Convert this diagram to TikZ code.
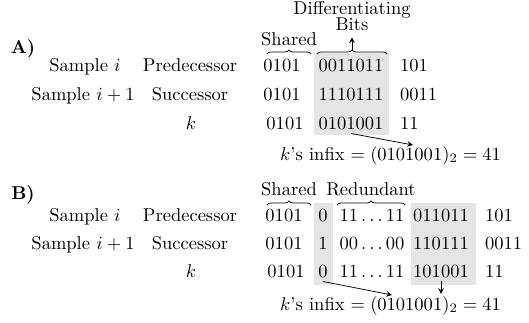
\documentclass[tikz,border=0pt]{standalone}
\usepackage{amsmath,amssymb}
\usepackage{tikz}
\usepackage{xcolor}
\usetikzlibrary{decorations.pathreplacing}

\begin{document}
\begin{tikzpicture}[x=0.54pt,y=-0.54pt,
  lbl/.style={anchor=base,inner sep=1pt},
  bits/.style={anchor=base,inner sep=2pt},
  tailbits/.style={anchor=base west,inner sep=2pt},
  curly/.style={decorate,decoration={brace,amplitude=2.2pt}},
  ptr/.style={->,>=stealth}]
\useasboundingbox (0,0) rectangle (529,322);
\fill[gray!20] (314,53) rectangle (389,135);
\fill[gray!20] (314,203) rectangle (333,285);
\fill[gray!20] (411,203) rectangle (476,285);
\node[lbl,font=\bfseries] (panA) at (23,53) {A)};
\node[lbl] (sampA1) at (85,71) {Sample $i$};
\node[lbl] (roleA1) at (190,71) {Predecessor};
\node[lbl] (sampA2) at (83,100) {Sample $i+1$};
\node[lbl] (roleA2) at (190,100) {Successor};
\node[lbl] (roleA3) at (191,129) {$k$};
\node[lbl] (shA) at (289,45) {Shared};
\node[align=center,inner sep=3.5pt] (diffA) at (352,16) {Differentiating\\[-3.5pt]Bits};
\node[bits] (pA1) at (282,71) {0101};
\node[bits] (dA1) at (351,71) {0011011};
\node[tailbits] (sA1) at (396,71) {101};
\node[bits] (pA2) at (282,100) {0101};
\node[bits] (dA2) at (351,100) {1110111};
\node[tailbits] (sA2) at (396,100) {0011};
\node[bits] (pA3) at (285,129) {0101};
\node[bits] (dA3) at (351,129) {0101001};
\node[tailbits] (sA3) at (396,129) {11};
\node[lbl,anchor=base west] (infA) at (278,160) {$k$'s infix $=(0101001)_2=41$};
\draw[curly] (267,54) -- (311,54);
\draw[curly] (317,54) -- (387,54);
\coordinate (tipA) at (352,50);
\draw[ptr] (tipA) -- (diffA);
\coordinate (endA) at (413,145);
\draw[ptr] (dA3.south) -- (endA);
\node[lbl,font=\bfseries] (panB) at (23,199) {B)};
\node[lbl] (sampB1) at (85,221) {Sample $i$};
\node[lbl] (roleB1) at (190,221) {Predecessor};
\node[lbl] (sampB2) at (83,249) {Sample $i+1$};
\node[lbl] (roleB2) at (190,249) {Successor};
\node[lbl] (roleB3) at (191,277) {$k$};
\node[lbl] (shB) at (289,195) {Shared};
\node[lbl] (redB) at (371,195) {Redundant};
\node[bits] (pB1) at (284,221) {0101};
\node[bits] (mB1) at (323,221) {0};
\node[bits] (rB1) at (372,221) {$11\ldots11$};
\node[bits] (tB1) at (441,221) {011011};
\node[tailbits] (sB1) at (481,221) {101};
\node[bits] (pB2) at (284,249) {0101};
\node[bits] (mB2) at (323,249) {1};
\node[bits] (rB2) at (372,249) {$00\ldots00$};
\node[bits] (tB2) at (441,249) {110111};
\node[tailbits] (sB2) at (481,249) {0011};
\node[bits] (pB3) at (286,277) {0101};
\node[bits] (mB3) at (323,277) {0};
\node[bits] (rB3) at (372,277) {$11\ldots11$};
\node[bits] (tB3) at (441,277) {101001};
\node[tailbits] (sB3) at (481,277) {11};
\node[lbl,anchor=base west] (infB) at (278,310) {$k$'s infix $=(0101001)_2=41$};
\draw[curly] (267,205) -- (311,205);
\draw[curly] (337,205) -- (405,205);
\coordinate (endB) at (392,295);
\draw[ptr] (mB3.south) -- (endB);
\draw[ptr] (tB3.south) -- (tB3.south |- infB.north);
\end{tikzpicture}
\end{document}
